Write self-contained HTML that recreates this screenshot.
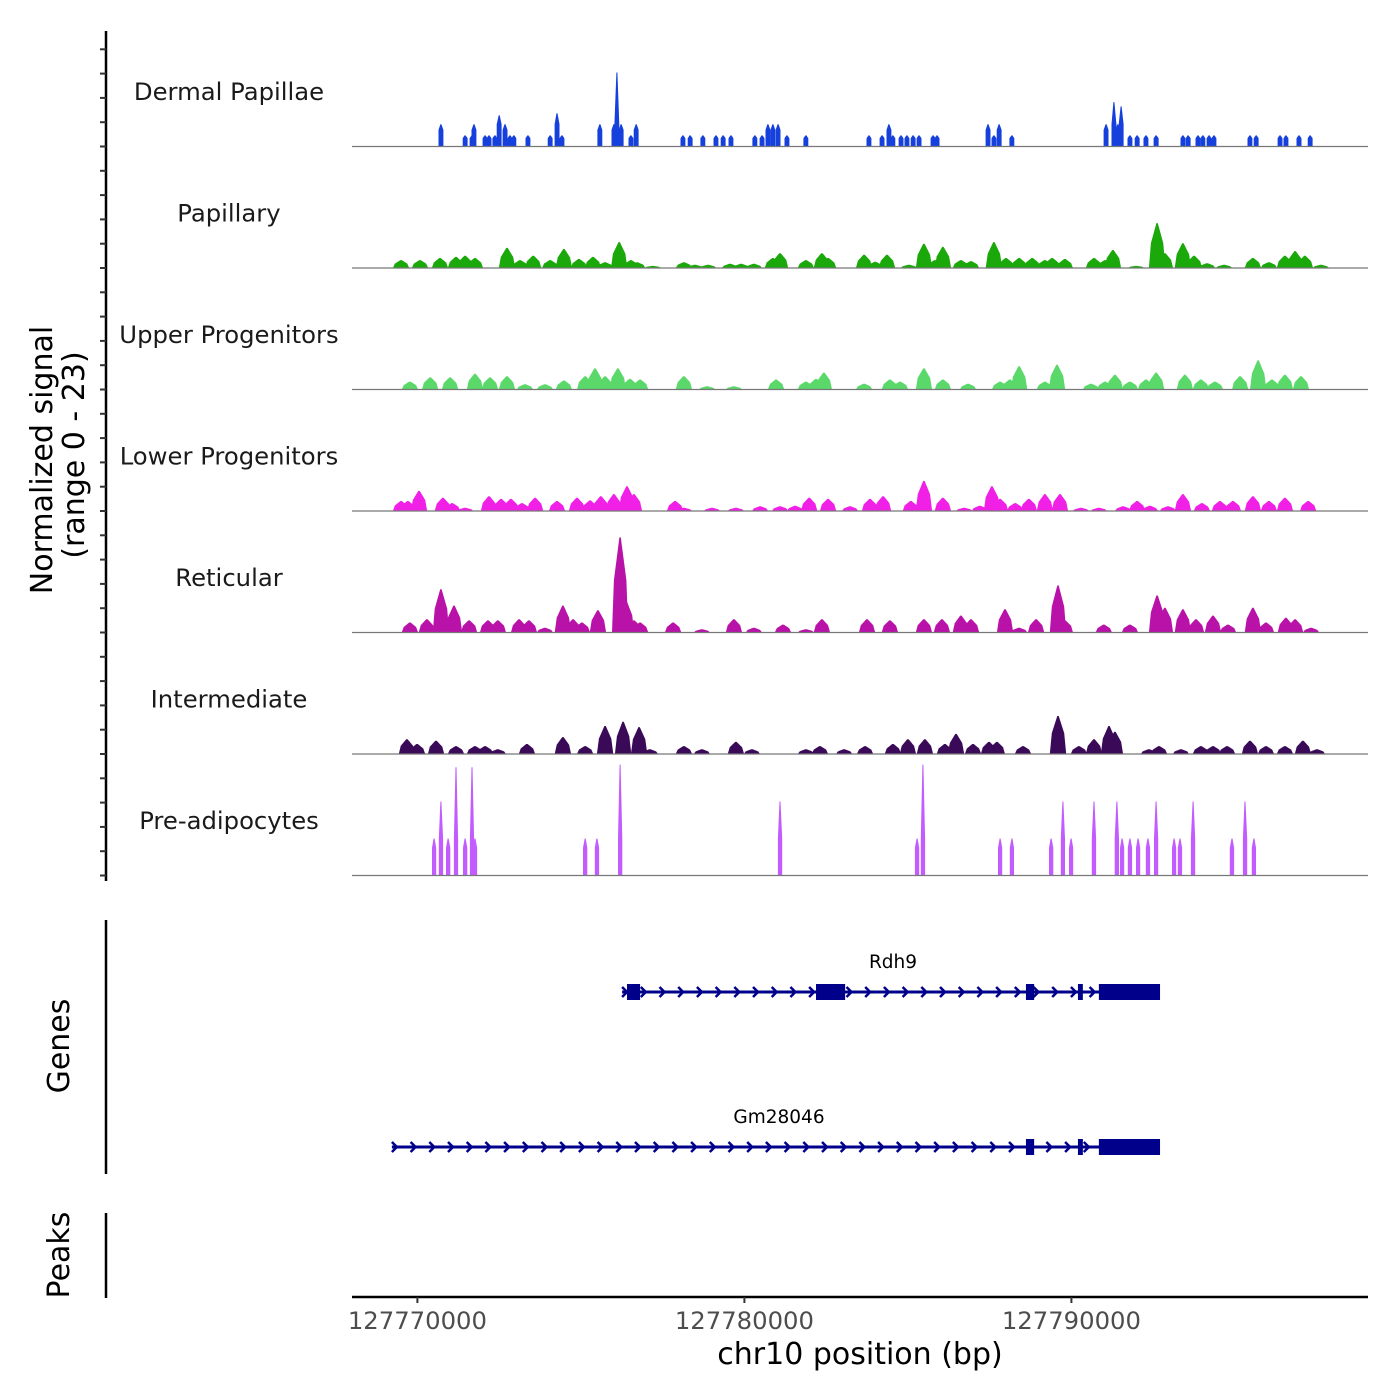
<!DOCTYPE html>
<html><head><meta charset="utf-8"><style>
html,body{margin:0;padding:0;background:#fff}
svg{display:block;font-family:"DejaVu Sans","Liberation Sans",sans-serif}
</style></head><body>
<svg id="chart" width="1400" height="1400" viewBox="0 0 1400 1400" xmlns="http://www.w3.org/2000/svg">
<rect width="1400" height="1400" fill="#fff"/>
<g id="tracks"></g>
<g id="yaxis"></g>
<text transform="translate(52,460) rotate(-90)" text-anchor="middle" font-size="30" fill="#000">Normalized signal</text>
<text transform="translate(84,455) rotate(-90)" text-anchor="middle" font-size="30" fill="#000">(range 0 - 23)</text>
<g id="genes"></g>
<line x1="106" y1="920" x2="106" y2="1174" stroke="#000" stroke-width="2.5"/>
<text transform="translate(69,1046) rotate(-90)" text-anchor="middle" font-size="30">Genes</text>
<line x1="106" y1="1213" x2="106" y2="1298" stroke="#000" stroke-width="2.5"/>
<text transform="translate(69,1255) rotate(-90)" text-anchor="middle" font-size="30">Peaks</text>
<g id="xaxis"></g>
<text x="860" y="1364" text-anchor="middle" font-size="30">chr10 position (bp)</text>
</svg>
<script>
const regionStart = 127768000;
const trackNames = ["Dermal Papillae","Papillary","Upper Progenitors","Lower Progenitors","Reticular","Intermediate","Pre-adipocytes"];
const trackColors = ["#1640dc","#1aa80a","#5ad96a","#f020e6","#b812a8","#3a0a58","#c25cff"];
const xTicks = [127770000,127780000,127790000];
const xTickLabels = ["127770000","127780000","127790000"];

// peak positions (kb offset from regionStart) and heights (normalized signal)
const dpPos = [2.72,3.46,3.67,3.73,4.07,4.19,4.37,4.50,4.68,4.83,4.95,5.38,6.06,6.27,6.42,7.58,8.01,8.10,8.23,8.53,8.69,10.12,10.34,10.73,11.13,11.35,11.59,12.32,12.54,12.72,12.87,13.03,13.30,13.88,15.81,16.21,16.42,16.54,16.79,16.97,17.16,17.34,17.77,17.89,19.45,19.63,19.79,20.18,23.06,23.30,23.42,23.52,23.79,24.01,24.28,24.59,25.41,25.57,25.87,26.02,26.21,26.36,27.46,27.65,28.38,28.56,28.96,29.30];
const dpVal = [4.2,2.1,2.1,4.2,2.1,2.1,2.1,5.9,4.2,2.1,2.1,2.1,2.1,6.3,2.1,4.2,4.2,14,4.2,2.1,4.2,2.1,2.1,2.1,2.1,2.1,2.1,2.1,2.1,4.2,4.2,4.2,2.1,2.1,2.1,2.1,4.2,2.1,2.1,2.1,2.1,2.1,2.1,2.1,4.2,2.1,4.2,2.1,4.2,8.4,4.2,7.6,2.1,2.1,2.1,2.1,2.1,2.1,2.1,2.1,2.1,2.1,2.1,2.1,2.1,2.1,2.1,2.1];

const papPos = [1.50,2.08,2.69,3.18,3.46,3.76,4.74,5.14,5.54,6.06,6.48,6.94,7.37,7.74,8.17,8.53,8.72,9.20,10.15,10.49,10.89,11.56,11.90,12.29,12.87,13.09,13.88,14.37,14.56,15.66,16.0,16.36,17.03,17.49,17.83,18.07,18.62,18.93,19.63,20.0,20.40,20.80,21.19,21.41,21.80,22.69,23.03,23.27,23.98,24.62,24.86,25.41,25.75,26.15,26.67,27.55,28.04,28.53,28.84,29.14,29.63];
const papVal = [1.5,1.5,1.9,2.1,2.3,1.9,3.8,1.5,2.3,1.5,3.6,1.7,2.1,1.1,4.9,1.5,1.1,0.4,1.1,0.6,0.6,0.8,0.8,0.8,1.9,2.8,1.5,2.8,1.9,2.5,1.2,2.5,0.6,4.6,1.5,4.0,1.5,1.3,4.9,1.9,1.9,1.9,1.5,1.9,1.7,1.9,1.5,3.4,0.4,8.5,2.8,4.7,2.3,0.9,0.6,1.9,1.1,2.3,3.2,2.3,0.6];

const upPos = [1.77,2.39,3.0,3.76,4.22,4.74,5.29,5.90,6.48,7.13,7.43,7.74,8.13,8.50,8.81,10.15,10.86,11.68,12.97,13.88,14.19,14.43,15.66,16.45,16.76,17.49,18.07,18.84,19.82,20.12,20.40,21.19,21.56,22.60,23.03,23.33,23.79,24.28,24.59,25.47,25.96,26.39,27.16,27.71,28.13,28.53,29.02];
const upVal = [1.5,2.3,2.3,3.0,2.3,2.5,1.0,1.0,1.7,2.5,4.0,2.5,4.0,2.0,1.9,2.5,0.6,0.6,1.9,1.5,2.0,3.2,1.1,1.9,1.5,4.0,1.9,1.1,1.5,1.9,4.4,1.5,4.7,1.1,1.5,2.8,1.5,1.9,3.2,2.8,1.9,1.5,2.5,5.5,1.9,2.8,2.5];

const lpPos = [1.50,1.71,2.05,2.78,3.06,3.46,4.19,4.56,4.86,5.20,5.60,6.27,6.88,7.28,7.61,8.01,8.41,8.62,9.88,10.15,11.01,11.74,12.48,13.09,13.55,13.98,14.56,15.23,15.84,16.24,17.09,17.49,18.07,18.72,19.2,19.57,19.82,20.28,20.70,21.19,21.65,22.29,22.84,23.58,24.01,24.40,24.95,25.41,25.99,26.54,26.94,27.55,28.04,28.53,29.24];
const lpVal = [1.9,1.9,3.8,2.5,1.5,0.6,2.8,2.3,2.3,1.5,2.5,1.9,2.5,2.0,2.8,3.2,4.7,3.2,1.9,0.6,0.6,0.6,0.9,0.9,1.0,2.5,2.3,0.9,2.3,2.8,1.9,5.7,2.5,0.6,1.0,4.7,2.3,1.5,2.3,3.2,3.2,0.6,0.6,0.9,1.9,1.0,0.9,3.2,1.5,1.9,1.9,2.8,1.9,2.5,1.9];

const retPos = [1.77,2.29,2.72,3.12,3.58,4.16,4.46,5.11,5.41,5.90,6.45,6.76,7.03,7.52,8.20,8.38,8.62,8.81,9.82,10.70,11.68,12.29,13.18,13.88,14.37,15.75,16.45,17.49,18.04,18.62,18.93,19.97,20.40,20.92,21.59,21.80,22.99,23.79,24.62,24.86,25.41,25.81,26.33,26.79,27.55,27.95,28.56,28.84,29.33];
const retVal = [1.9,2.5,8.2,5.1,2.3,2.3,2.3,2.5,2.3,0.9,5.1,2.5,1.9,4.2,18,6,2.3,1.9,1.9,0.6,2.5,0.9,1.5,0.6,2.5,2.5,2.3,2.5,2.5,3.2,2.5,4.4,0.9,2.5,8.9,2.3,1.5,1.5,7.0,4.7,4.4,2.5,3.2,1.5,4.7,1.9,2.8,2.5,0.9];

const intPos = [1.68,1.99,2.57,3.18,3.76,4.07,4.46,5.35,6.45,7.13,7.74,8.29,8.78,9.11,10.15,10.70,11.74,12.23,13.88,14.31,15.05,15.69,16.54,17.00,17.52,18.13,18.47,18.99,19.48,19.72,20.52,21.59,22.23,22.69,23.15,23.33,24.37,24.68,25.35,25.96,26.33,26.76,27.46,27.95,28.53,29.08,29.51];
const intVal = [2.8,1.9,2.5,1.5,1.5,1.5,0.9,1.9,3.2,1.5,5.3,6.1,5.1,0.9,1.5,0.9,2.3,0.9,0.9,1.5,0.9,1.5,1.9,2.8,2.8,1.9,3.8,1.9,2.3,2.3,1.5,7.2,1.5,2.8,5.3,4.2,0.9,1.5,0.9,1.5,1.5,1.5,2.5,1.5,1.5,2.5,0.9];

const prePos = [2.51,2.72,2.94,3.18,3.46,3.67,3.76,7.13,7.49,8.20,13.09,17.28,17.46,19.82,20.18,21.38,21.74,21.99,22.69,23.39,23.55,23.79,24.04,24.34,24.59,25.14,25.32,25.72,26.91,27.31,27.58];
const preVal = [7,14,7,20.5,7,20.5,7,7,7,21,14,7,21,7,7,7,14,7,14,14,7,7,7,7,14,7,7,14,7,14,7];

const trackPos = [dpPos,papPos,upPos,lpPos,retPos,intPos,prePos];
const trackVal = [dpVal,papVal,upVal,lpVal,retVal,intVal,preVal];

// genes (kb offsets)
const geneNames = ["Rdh9","Gm28046"];
const geneStarts = [8.26,1.22];
const geneEnds = [24.71,24.71];
const rdh9ExonStarts = [8.41,14.19,20.61,22.20,22.84];
const rdh9ExonEnds = [8.81,15.08,20.86,22.35,24.71];
const gmExonStarts = [20.61,22.20,22.84];
const gmExonEnds = [20.86,22.35,24.71];
const geneExonStarts = [rdh9ExonStarts,gmExonStarts];
const geneExonEnds = [rdh9ExonEnds,gmExonEnds];

const NS = "http://www.w3.org/2000/svg";
const X0 = 352, X1 = 1368, domainKb = 31.07;
function xKb(kb){ return X0 + kb/domainKb*(X1-X0); }
function xBp(bp){ return xKb((bp-regionStart)/1000); }
const trackTop = 25, trackH = 121.5, maxSignal = 23;
function yVal(v, i){ return trackTop + (i+1)*trackH - v/maxSignal*trackH; }
function mk(tag, attrs, parent){ const e=document.createElementNS(NS,tag); for(const k in attrs) e.setAttribute(k,attrs[k]); parent.appendChild(e); return e; }

const tg = document.getElementById('tracks');
for (let i=0;i<trackNames.length;i++){
  const base = yVal(0,i);
  const lbl = mk('text',{x:229,y:trackTop+i*trackH+75,'text-anchor':'middle','font-size':'24.3',fill:'#1a1a1a'},tg);
  lbl.textContent = trackNames[i];
  
  
  const pos = trackPos[i], val = trackVal[i];
  const spiky = (i===0 || i===6);
  const w = i===0 ? 0.15 : (i===6 ? 0.13 : 0.5);
  const cap = i===0 ? 4.2 : 7;
  for (let j=0;j<pos.length;j++){
    const xl = xKb(pos[j]-w/2), xr = xKb(pos[j]+w/2), xc = xKb(pos[j]);
    const yt = yVal(val[j],i);
    let pts;
    if (spiky){
      const ys = val[j] > cap ? yVal(cap,i) : base - (base-yt)*0.75;
      pts = [[xl,base],[xl,ys],[xc-0.5,yt],[xc+0.5,yt],[xr,ys],[xr,base]];
    } else {
      const ys = base - (base-yt)*0.55;
      pts = [[xl,base],[xl+(xr-xl)*0.12,ys],[xc-0.7,yt],[xc+0.7,yt],[xr-(xr-xl)*0.12,ys],[xr,base]];
    }
    const p = mk('polygon',{points:pts.map(q=>q[0].toFixed(1)+','+q[1].toFixed(1)).join(' '),fill:trackColors[i]},tg);
    
    
  }
  const bl = mk('line',{x1:X0,x2:X1,y1:base,y2:base,stroke:'#777','stroke-width':1.2},tg);
  
  
}

const ya = document.getElementById('yaxis');
mk('line',{x1:106,x2:106,y1:31,y2:881,stroke:'#000','stroke-width':2.5},ya);
for (let k=0;k<=35;k++){
  const y = trackTop + trackH - 4*trackH/5 + k*trackH/5;
  if (y>881) break;
  mk('line',{x1:100,x2:106,y1:y,y2:y,stroke:'#333','stroke-width':2},ya);
}

const gg = document.getElementById('genes');
const geneY = [992,1147];
const labelX = [893,779];
for (let g=0; g<geneNames.length; g++){
  const y = geneY[g];
  const t = mk('text',{x:labelX[g],y:y-24,'text-anchor':'middle','font-size':'18.5',fill:'#000'},gg);
  t.textContent = geneNames[g];
  
  
  const xs = xKb(geneStarts[g]), xe = xKb(geneEnds[g]);
  const ln = mk('line',{x1:xs,x2:xe,y1:y,y2:y,stroke:'#00008b','stroke-width':3},gg);
  
  
  for (let x=xs+3; x<xe-10; x+=18.7){
    mk('polyline',{points:`${x-3},${y-5} ${x+2},${y} ${x-3},${y+5}`,fill:'none',stroke:'#00008b','stroke-width':2.5},gg);
  }
  for (let e=0;e<geneExonStarts[g].length;e++){
    const a = xKb(geneExonStarts[g][e]), b = xKb(geneExonEnds[g][e]);
    const r = mk('rect',{x:a,y:y-8,width:Math.max(b-a,3),height:16,fill:'#00008b'},gg);
    
    
  }
}

const xa = document.getElementById('xaxis');
mk('line',{x1:X0,x2:X1,y1:1297,y2:1297,stroke:'#000','stroke-width':2.5},xa);
for (let k=0;k<xTicks.length;k++){
  const x = xBp(xTicks[k]);
  mk('line',{x1:x,x2:x,y1:1297,y2:1303,stroke:'#333','stroke-width':2},xa);
  const t = mk('text',{x:x,y:1329,'text-anchor':'middle','font-size':'24.3',fill:'#4d4d4d'},xa);
  t.textContent = xTickLabels[k];
  
  
}
</script>
</body></html>
